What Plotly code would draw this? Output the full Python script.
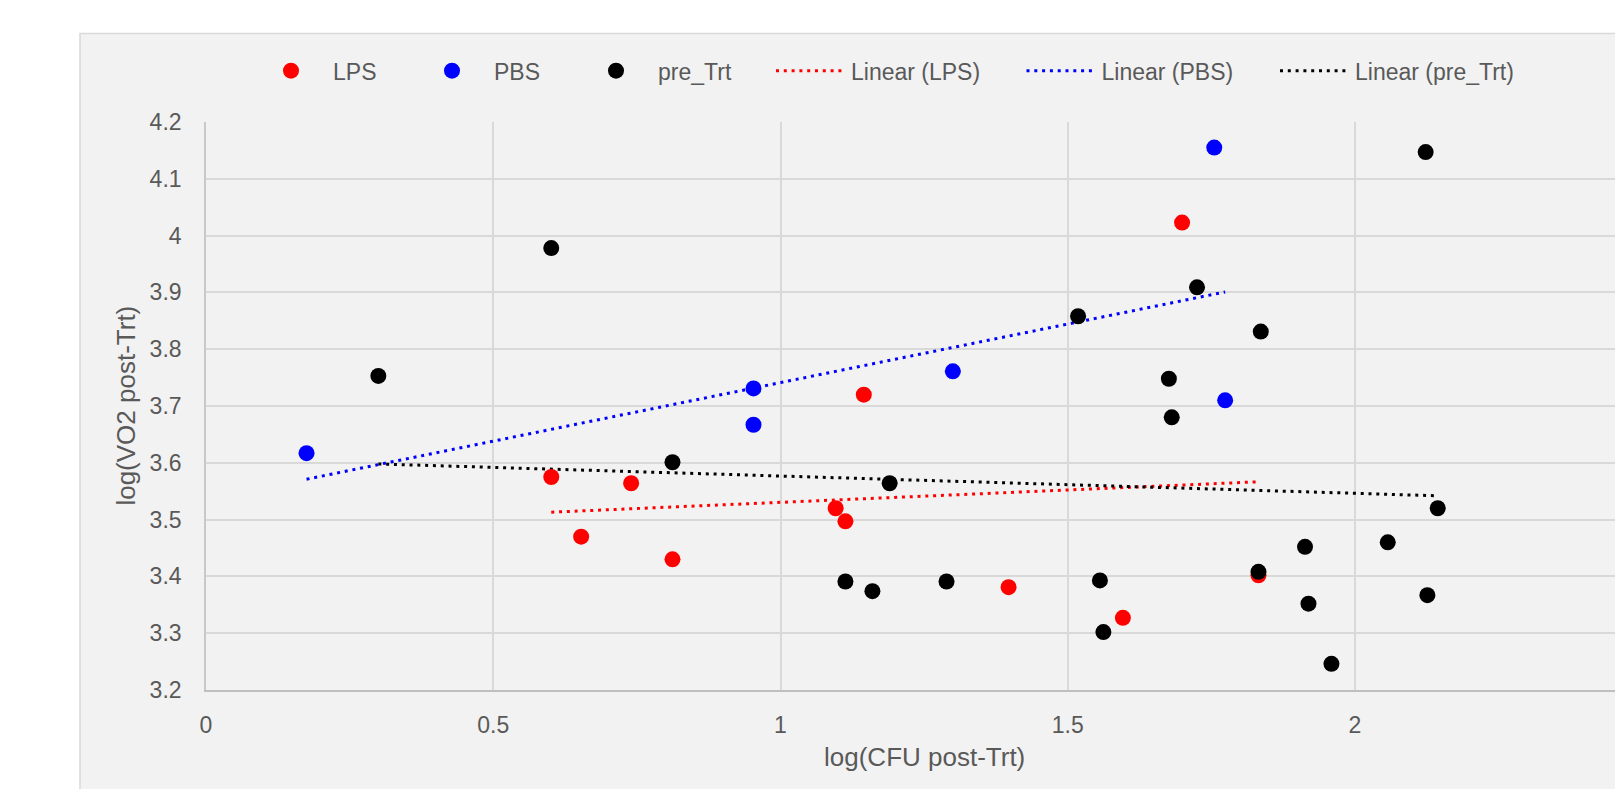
import plotly.graph_objects as go

# ---------------- data ----------------
lps_x = [0.601, 0.740, 0.653, 0.812, 1.145, 1.096, 1.113, 1.397, 1.596, 1.699, 1.832]
lps_y = [3.575, 3.564, 3.470, 3.430, 3.720, 3.520, 3.497, 3.381, 3.327, 4.023, 3.402]

pbs_x = [0.175, 0.953, 0.953, 1.300, 1.755, 1.774]
pbs_y = [3.617, 3.731, 3.667, 3.761, 4.155, 3.710]

pre_x = [0.300, 0.601, 0.812, 1.113, 1.160, 1.190, 1.289, 1.518, 1.556, 1.562, 1.676,
         1.681, 1.725, 1.832, 1.836, 1.913, 1.919, 1.959, 2.057, 2.123, 2.126, 2.144]
pre_y = [3.753, 3.978, 3.601, 3.391, 3.374, 3.564, 3.391, 3.858, 3.393, 3.302, 3.748,
         3.680, 3.909, 3.408, 3.831, 3.452, 3.352, 3.246, 3.460, 4.147, 3.367, 3.520]

# linear trendline coefficients (intercept, slope)
lps_trend = (3.4869, 0.0435)
pbs_trend = (3.5350, 0.2062)
pre_trend = (3.6071, -0.0304)

series_names = ["LPS", "PBS", "pre_Trt"]
trend_names = ["Linear (LPS)", "Linear (PBS)", "Linear (pre_Trt)"]
colors = ["#FF0000", "#0000FF", "#000000"]

x_ticks = [0, 0.5, 1, 1.5, 2]
x_ticklabels = ["0", "0.5", "1", "1.5", "2"]
y_ticks = [3.2, 3.3, 3.4, 3.5, 3.6, 3.7, 3.8, 3.9, 4.0, 4.1, 4.2]
y_ticklabels = ["3.2", "3.3", "3.4", "3.5", "3.6", "3.7", "3.8", "3.9", "4", "4.1", "4.2"]

x_title = "log(CFU post-Trt)"
y_title = "log(VO2 post-Trt)"

# ---------------- figure ----------------
W, H = 1615, 789
ML, MR, MT, MB = 206, 0, 122, 99
PW = W - ML - MR
PH = H - MT - MB
X_FULL_MAX = 2.5                      # full axis range of the original chart
X_VIS_MAX = PW / ((1355 - 206) / 2.0)  # part of the axis visible in the window

FONT = "Liberation Sans, Arial, sans-serif"
TXT = "#595959"
GRID = "#D9D9D9"


def px2paper_x(px):
    return (px - ML) / PW


def px2paper_y(py):
    return (H - MB - py) / PH


fig = go.Figure()

# trend lines first (markers are drawn on top of them)
legend_ids_line = ["legend4", "legend5", "legend6"]
for (xs, (a, b)), name, col, lg in zip(
        [(lps_x, lps_trend), (pbs_x, pbs_trend), (pre_x, pre_trend)],
        trend_names, colors, legend_ids_line):
    x0, x1 = min(xs), max(xs)
    fig.add_trace(go.Scatter(
        x=[x0, x1], y=[a + b * x0, a + b * x1], mode="lines", name=name,
        line=dict(color=col, width=3, dash="3px,4.8px"),
        legend=lg, hoverinfo="skip"))

legend_ids_mk = ["legend", "legend2", "legend3"]
for xs, ys, name, col, lg in zip([lps_x, pbs_x, pre_x], [lps_y, pbs_y, pre_y],
                                 series_names, colors, legend_ids_mk):
    fig.add_trace(go.Scatter(
        x=xs, y=ys, mode="markers", name=name,
        marker=dict(color=col, size=16, line=dict(width=0)),
        legend=lg))

# panel background
fig.add_shape(type="rect", xref="paper", yref="paper",
              x0=px2paper_x(80), x1=1.05, y0=px2paper_y(820), y1=px2paper_y(33.5),
              fillcolor="#F2F2F2", line=dict(color=GRID, width=1.5), layer="below")

leg_y = px2paper_y(70.7)
text_starts_mk = [333, 494, 658]
text_starts_ln = [851, 1101.5, 1355]
IW_MK, IW_LN = 74, 70
legends = {}
for lg, ts in zip(legend_ids_mk, text_starts_mk):
    legends[lg] = dict(x=px2paper_x(ts - IW_MK - 10), y=leg_y, xanchor="left", yanchor="middle",
                       orientation="h", itemwidth=IW_MK, bgcolor="rgba(0,0,0,0)",
                       font=dict(family=FONT, size=23, color=TXT))
for lg, ts in zip(legend_ids_line, text_starts_ln):
    legends[lg] = dict(x=px2paper_x(ts - IW_LN - 10), y=leg_y, xanchor="left", yanchor="middle",
                       orientation="h", itemwidth=IW_LN, bgcolor="rgba(0,0,0,0)",
                       font=dict(family=FONT, size=23, color=TXT))

fig.update_layout(
    width=W, height=H,
    margin=dict(l=ML, r=MR, t=MT, b=MB, pad=0),
    paper_bgcolor="#FFFFFF", plot_bgcolor="#F2F2F2",
    font=dict(family=FONT, size=23, color=TXT),
    showlegend=True,
    **legends,
    xaxis=dict(range=[0, X_VIS_MAX], tickvals=x_ticks, ticktext=x_ticklabels,
               showgrid=True, gridcolor=GRID, gridwidth=1.6, zeroline=False,
               showline=True, linecolor="#BFBFBF", linewidth=1.6,
               ticks="outside", ticklen=14, tickcolor="rgba(0,0,0,0)",
               tickfont=dict(family=FONT, size=23, color=TXT)),
    yaxis=dict(range=[3.2, 4.2], tickvals=y_ticks, ticktext=y_ticklabels,
               showgrid=True, gridcolor=GRID, gridwidth=1.6, zeroline=False,
               showline=True, linecolor="#C8C8C8", linewidth=1.6,
               ticks="outside", ticklen=18, tickcolor="rgba(0,0,0,0)",
               tickfont=dict(family=FONT, size=23, color=TXT)),
    annotations=[
        dict(text=x_title, xref="x", yref="paper", x=X_FULL_MAX / 2, y=px2paper_y(756.7),
             xanchor="center", yanchor="middle", showarrow=False,
             font=dict(family=FONT, size=26, color=TXT)),
        dict(text=y_title, xref="paper", yref="paper", x=px2paper_x(125.6), y=0.5,
             xanchor="center", yanchor="middle", textangle=-90, showarrow=False,
             font=dict(family=FONT, size=26, color=TXT)),
    ],
)

fig.write_html("out.html")
